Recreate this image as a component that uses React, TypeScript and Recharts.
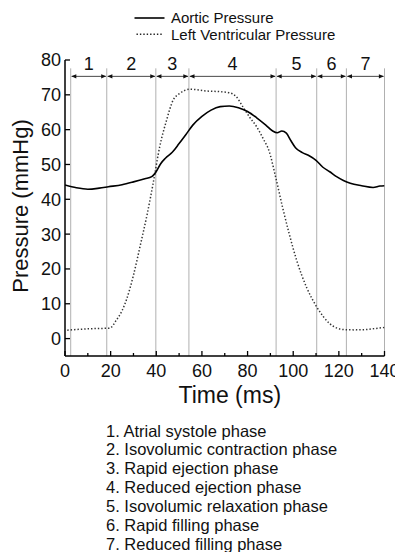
import React from 'react';
import { LineChart, Line, XAxis, YAxis, ReferenceLine } from 'recharts';

// aortic pressure (ms, mmHg)
const aorticTime = [0, 5, 10, 15, 19, 25, 30, 35, 38, 40, 42, 44, 47, 50, 53, 56, 60, 64, 68, 72, 76, 80, 84, 88, 91, 93, 95, 97, 99, 101, 104, 107, 110, 113, 116, 119, 122, 125, 130, 135, 138, 140];
const aorticValues = [44.1, 43.3, 42.9, 43.2, 43.6, 44.2, 45.0, 45.9, 46.5, 48.0, 50.3, 51.8, 53.5, 56.0, 58.6, 61.3, 63.8, 65.6, 66.6, 66.8, 66.3, 65.2, 63.4, 61.3, 59.6, 59.1, 59.6, 59.0, 56.8, 54.8, 53.4, 52.5, 51.2, 49.2, 47.9, 46.5, 45.4, 44.6, 43.9, 43.4, 43.8, 43.9];

// left ventricular pressure
const lvTime = [1, 5, 10, 15, 19.6, 22.5, 25, 27, 30, 33, 36, 38.6, 41.5, 44.5, 47.4, 50.3, 54.7, 62, 68, 72, 75, 78, 81, 84, 87, 89.3, 92.3, 95.3, 98.2, 101.5, 106, 110.3, 116, 122, 127, 132, 136, 140];
const lvValues = [2.4, 2.6, 2.8, 2.9, 3.0, 5.3, 8.0, 11.3, 18.2, 26.8, 35.7, 44.5, 55.1, 62.7, 68.5, 70.4, 71.6, 71.1, 70.9, 70.6, 69.5, 66.5, 63.5, 60.8, 57.2, 54.1, 46.4, 37.8, 30.2, 22.5, 14.5, 9.1, 4.3, 2.6, 2.5, 2.6, 2.9, 3.2];

const phaseBounds = [2.5, 18.3, 39.8, 54.3, 92.5, 110.3, 123.3, 140];
const phaseNums = ['1', '2', '3', '4', '5', '6', '7'];
const phaseNames = [
  '1. Atrial systole phase',
  '2. Isovolumic contraction phase',
  '3. Rapid ejection phase',
  '4. Reduced ejection phase',
  '5. Isovolumic relaxation phase',
  '6. Rapid filling phase',
  '7. Reduced filling phase',
];

const xTicks = [0, 10, 20, 30, 40, 50, 60, 70, 80, 90, 100, 110, 120, 130, 140];
const xTickLabels = [0, 20, 40, 60, 80, 100, 120, 140];
const yTicks = [0, 10, 20, 30, 40, 50, 60, 70, 80];

const aorticRows = aorticTime.map((t, i) => ({ t, p: aorticValues[i] }));
const lvRows = lvTime.map((t, i) => ({ t, p: lvValues[i] }));

const FONT = '"Liberation Sans", Arial, sans-serif';

const XTick = (props: any) => {
  const { x, y, payload } = props;
  const major = xTickLabels.includes(payload.value);
  return (
    <g>
      <line x1={x} x2={x} y1={y} y2={y - (major ? 5 : 3)} stroke="#000" strokeWidth={1.3} />
      {major && (
        <text x={x} y={y + 21} textAnchor="middle" fontSize={18} fill="#111" fontFamily={FONT}>
          {payload.value}
        </text>
      )}
    </g>
  );
};

const PhaseArrow = (p: any) => {
  const { x1, x2, y1, num } = p;
  const h = 5;
  const w = 2.2;
  return (
    <g>
      <line x1={x1 + 1} x2={x2 - 1} y1={y1} y2={y1} stroke="#333" strokeWidth={0.9} />
      <polygon points={`${x1 + 0.6},${y1} ${x1 + 0.6 + h},${y1 - w} ${x1 + 0.6 + h},${y1 + w}`} fill="#111" />
      <polygon points={`${x2 - 0.6},${y1} ${x2 - 0.6 - h},${y1 - w} ${x2 - 0.6 - h},${y1 + w}`} fill="#111" />
      <text x={(x1 + x2) / 2} y={y1 - 6.4} textAnchor="middle" fontSize={18} fill="#111" fontFamily={FONT}>
        {num}
      </text>
    </g>
  );
};

const YTitle = (props: any) => {
  const { x, y, height } = props.viewBox;
  const cx = x + 20;
  const cy = y + height / 2 - 2;
  return (
    <text x={cx} y={cy} transform={`rotate(-90 ${cx} ${cy})`} textAnchor="middle" dominantBaseline="central" fontSize={22} fill="#111" fontFamily={FONT}>
      Pressure (mmHg)
    </text>
  );
};

const XTitle = (props: any) => {
  const { x, y, width } = props.viewBox;
  return (
    <text x={x + width / 2 + 5} y={y + 47} textAnchor="middle" fontSize={23} fill="#111" fontFamily={FONT}>
      Time (ms)
    </text>
  );
};

export default function App() {
  return (
    <div style={{ position: 'absolute', left: 0, top: 0, width: 395, height: 552, overflow: 'hidden', background: '#fff', fontFamily: FONT }}>
      <svg width={395} height={45} style={{ position: 'absolute', left: 0, top: 0 }}>
        <line x1={134.5} x2={164.5} y1={18} y2={18} stroke="#000" strokeWidth={1.6} />
        <text x={171} y={23.3} fontSize={15} fill="#111" fontFamily={FONT}>Aortic Pressure</text>
        <line x1={136.5} x2={162} y1={34.3} y2={34.3} stroke="#222" strokeWidth={1.5} strokeDasharray="1.4 2" />
        <text x={171} y={39.7} fontSize={15} fill="#111" fontFamily={FONT}>Left Ventricular Pressure</text>
      </svg>
      <div style={{ position: 'absolute', left: 0, top: 0 }}>
        <LineChart width={395} height={420} margin={{ top: 60, right: 10.5, left: 0, bottom: 0 }}>
          <XAxis
            type="number"
            dataKey="t"
            domain={[0, 140]}
            ticks={xTicks}
            interval={0}
            tick={<XTick />}
            tickLine={false}
            tickSize={0}
            tickMargin={0}
            height={64}
            axisLine={{ stroke: '#000', strokeWidth: 1.5 }}
            allowDataOverflow
            label={XTitle}
          />
          <YAxis
            type="number"
            domain={[-5, 80]}
            ticks={yTicks}
            interval={0}
            width={65}
            tickSize={-5}
            tickMargin={9}
            tick={{ fontSize: 18, fill: '#111', fontFamily: FONT }}
            tickLine={{ stroke: '#000', strokeWidth: 1.3 }}
            axisLine={{ stroke: '#000', strokeWidth: 1.5 }}
            allowDataOverflow
            label={YTitle}
          />
          {phaseBounds.map((b) => (
            <ReferenceLine key={`b${b}`} segment={[{ x: b, y: -5 }, { x: b, y: 77.6 }]} stroke="#b0b0b0" strokeWidth={1} />
          ))}
          {phaseNums.map((n, i) => (
            <ReferenceLine
              key={`a${n}`}
              segment={[{ x: phaseBounds[i], y: 75.3 }, { x: phaseBounds[i + 1], y: 75.3 }]}
              shape={(p: any) => <PhaseArrow {...p} num={n} />}
            />
          ))}
          <Line data={lvRows} dataKey="p" type="monotone" stroke="#333" strokeWidth={1.5} strokeDasharray="1.4 2" dot={false} isAnimationActive={false} />
          <Line data={aorticRows} dataKey="p" type="monotone" stroke="#000" strokeWidth={1.6} dot={false} isAnimationActive={false} />
        </LineChart>
      </div>
      <div style={{ position: 'absolute', left: 106, top: 421.5, fontSize: 16.5, lineHeight: '18.9px', color: '#111', whiteSpace: 'nowrap' }}>
        {phaseNames.map((s) => (
          <div key={s}>{s}</div>
        ))}
      </div>
    </div>
  );
}
